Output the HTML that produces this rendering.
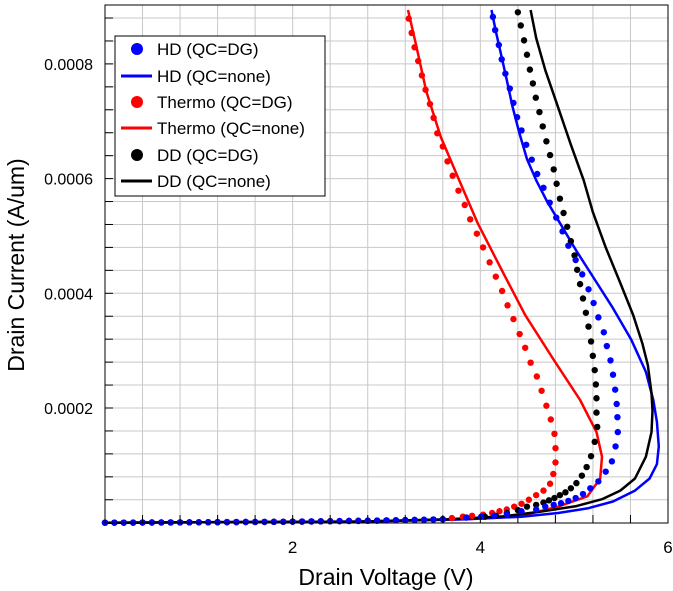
<!DOCTYPE html>
<html><head><meta charset="utf-8"><style>
body{margin:0;background:#fff;}
svg{display:block;font-family:"Liberation Sans",Arial,sans-serif;}
</style></head><body>
<svg id="chart" width="673" height="591" viewBox="0 0 673 591">
<g id="grid"></g>
<g id="series"></g>
<rect x="105" y="5" width="563" height="518" fill="none" stroke="#000" stroke-width="1"/>
<g id="axes"></g>
<text x="386" y="585" font-size="23" text-anchor="middle">Drain Voltage (V)</text>
<text transform="translate(24,265) rotate(-90)" font-size="23" text-anchor="middle">Drain Current (A/um)</text>
<g>
<rect x="115" y="36" width="210" height="160" fill="#fff" stroke="#000" stroke-width="1"/>
<circle cx="137" cy="49" r="6" fill="#0000ff"/>
<text x="157" y="55" font-size="17">HD (QC=DG)</text>
<line x1="121" y1="76" x2="152" y2="76" stroke="#0000ff" stroke-width="3"/>
<text x="157" y="82" font-size="17">HD (QC=none)</text>
<circle cx="137" cy="102" r="6" fill="#ff0000"/>
<text x="157" y="108" font-size="17">Thermo (QC=DG)</text>
<line x1="121" y1="128" x2="152" y2="128" stroke="#ff0000" stroke-width="3"/>
<text x="157" y="134" font-size="17">Thermo (QC=none)</text>
<circle cx="137" cy="155" r="6" fill="#000"/>
<text x="157" y="161" font-size="17">DD (QC=DG)</text>
<line x1="121" y1="181" x2="152" y2="181" stroke="#000" stroke-width="3"/>
<text x="157" y="187" font-size="17">DD (QC=none)</text>
</g>
</svg>
<script>
const xTicks=[2,4,6];
const yTicks=[0.0002,0.0004,0.0006,0.0008];
const yTickLabels=["0.0002","0.0004","0.0006","0.0008"];
const tail=[3.6,3.5,3.4,3.3,3.2,3.1,3.0,2.9,2.8,2.7,2.6,2.5,2.4,2.3,2.2,2.1,2.0,1.9,1.8,1.7,1.6,1.5,1.4,1.3,1.2,1.1,1.0,0.9,0.8,0.7,0.6,0.5,0.4,0.3,0.2,0.1,0.0];
const tailI=[6e-6,5.5e-6,5e-6,4.7e-6,4.5e-6,4.2e-6,4e-6,3.7e-6,3.4e-6,3.2e-6,3e-6,2.8e-6,2.6e-6,2.4e-6,2.2e-6,2e-6,1.8e-6,1.6e-6,1.5e-6,1.4e-6,1.3e-6,1.2e-6,1.1e-6,1e-6,0.9e-6,0.8e-6,0.7e-6,0.6e-6,0.5e-6,0.45e-6,0.4e-6,0.35e-6,0.3e-6,0.2e-6,0.1e-6,0.05e-6,0];

const thermoLineV=[3.229,3.307,3.424,3.580,3.775,3.970,4.243,4.478,4.790,5.063,5.238,5.297,5.277,5.141,4.829,4.439,3.853,2.683,0];
const thermoLineI=[8.94e-4,8.39e-4,7.52e-4,6.72e-4,5.97e-4,5.23e-4,4.36e-4,3.62e-4,2.82e-4,2.14e-4,1.58e-4,1.15e-4,7.7e-5,4.6e-5,2.8e-5,1.2e-5,6e-6,2e-6,0];
const hdLineV=[4.119,4.165,4.224,4.283,4.341,4.419,4.497,4.595,4.712,4.868,5.024,5.219,5.414,5.609,5.765,5.843,5.882,5.902,5.882,5.804,5.648,5.414,5.141,4.829,4.439,3.853,2.683,0];
const hdLineI=[8.94e-4,8.57e-4,8.14e-4,7.71e-4,7.27e-4,6.78e-4,6.34e-4,5.97e-4,5.60e-4,5.17e-4,4.74e-4,4.24e-4,3.74e-4,3.19e-4,2.63e-4,2.14e-4,1.76e-4,1.33e-4,1.02e-4,7.7e-5,5.6e-5,3.7e-5,2.5e-5,1.7e-5,1.05e-5,6e-6,2e-6,0];
const ddLineV=[4.536,4.595,4.692,4.809,4.965,5.102,5.199,5.336,5.492,5.629,5.726,5.785,5.824,5.835,5.824,5.765,5.648,5.492,5.297,5.024,4.634,4.243,3.658,2.683,0];
const ddLineI=[8.94e-4,8.45e-4,7.89e-4,7.34e-4,6.59e-4,5.97e-4,5.42e-4,4.80e-4,4.18e-4,3.62e-4,3.13e-4,2.75e-4,2.26e-4,1.95e-4,1.58e-4,1.15e-4,7.7e-5,5.6e-5,4.1e-5,2.9e-5,1.9e-5,1.1e-5,6e-6,2e-6,0];

const thermoDotV=[3.237,3.268,3.299,3.338,3.377,3.416,3.463,3.502,3.541,3.600,3.650,3.705,3.767,3.834,3.892,3.963,4.029,4.099,4.165,4.232,4.290,4.353,4.419,4.478,4.536,4.602,4.653,4.704,4.751,4.790,4.801,4.801,4.778,4.743,4.673,4.595,4.517,4.439,4.361,4.282,4.204,4.126,4.029,3.912,3.814,3.697];
const thermoDotI=[8.79e-4,8.54e-4,8.29e-4,8.05e-4,7.80e-4,7.55e-4,7.30e-4,7.06e-4,6.79e-4,6.56e-4,6.30e-4,6.05e-4,5.79e-4,5.54e-4,5.29e-4,5.04e-4,4.80e-4,4.54e-4,4.29e-4,4.04e-4,3.79e-4,3.55e-4,3.29e-4,3.05e-4,2.79e-4,2.55e-4,2.30e-4,2.04e-4,1.80e-4,1.55e-4,1.30e-4,1.05e-4,8.5e-5,6.8e-5,5.6e-5,4.8e-5,4.0e-5,3.3e-5,2.8e-5,2.3e-5,2.0e-5,1.7e-5,1.4e-5,1.2e-5,1.05e-5,8e-6];
const hdDotV=[4.134,4.158,4.197,4.228,4.267,4.314,4.353,4.392,4.439,4.489,4.548,4.606,4.673,4.739,4.809,4.876,4.938,5.016,5.086,5.153,5.207,5.258,5.316,5.348,5.387,5.414,5.437,5.453,5.461,5.465,5.441,5.402,5.336,5.258,5.172,5.094,5.016,4.938,4.860,4.782,4.692,4.595,4.439,4.283,4.146,4.009,3.850];
const hdDotI=[8.82e-4,8.59e-4,8.33e-4,8.08e-4,7.83e-4,7.57e-4,7.32e-4,7.07e-4,6.84e-4,6.59e-4,6.33e-4,6.08e-4,5.84e-4,5.58e-4,5.32e-4,5.08e-4,4.83e-4,4.58e-4,4.33e-4,4.07e-4,3.83e-4,3.58e-4,3.32e-4,3.08e-4,2.83e-4,2.58e-4,2.32e-4,2.07e-4,1.84e-4,1.58e-4,1.33e-4,1.07e-4,8.9e-5,7.2e-5,6.0e-5,5.0e-5,4.3e-5,3.8e-5,3.4e-5,3.1e-5,2.8e-5,2.3e-5,2.0e-5,1.5e-5,1.2e-5,1.05e-5,9e-6];
const ddDotV=[4.400,4.431,4.466,4.497,4.528,4.560,4.591,4.630,4.665,4.704,4.743,4.782,4.813,4.848,4.887,4.926,4.965,5.004,5.032,5.063,5.094,5.125,5.153,5.180,5.199,5.219,5.231,5.238,5.238,5.246,5.219,5.180,5.133,5.082,5.024,4.965,4.907,4.848,4.790,4.731,4.673,4.595,4.497,4.400,4.283,4.165,4.048,3.850];
const ddDotI=[8.90e-4,8.67e-4,8.41e-4,8.16e-4,7.90e-4,7.66e-4,7.41e-4,7.16e-4,6.91e-4,6.65e-4,6.41e-4,6.16e-4,5.91e-4,5.65e-4,5.40e-4,5.16e-4,4.91e-4,4.66e-4,4.41e-4,4.16e-4,3.91e-4,3.66e-4,3.42e-4,3.16e-4,2.91e-4,2.66e-4,2.41e-4,2.17e-4,1.92e-4,1.67e-4,1.41e-4,1.16e-4,9.7e-5,8.2e-5,6.9e-5,6.0e-5,5.3e-5,4.8e-5,4.3e-5,3.9e-5,3.5e-5,3.1e-5,2.8e-5,2.2e-5,1.7e-5,1.2e-5,1.05e-5,9e-6];

const NS="http://www.w3.org/2000/svg";
const X0=105,X1=668,Y0=522.7,YPX=573500;
function sx(v){return X0+(X1-X0)*v/6;}
function sy(i){return Y0-i*YPX;}
function mk(tag,attrs,parent){const e=document.createElementNS(NS,tag);for(const k in attrs)e.setAttribute(k,attrs[k]);parent.appendChild(e);return e;}
const grid=document.getElementById('grid'),axes=document.getElementById('axes'),ser=document.getElementById('series');
for(let k=1;k<15;k++){const v=k*0.4;const x=sx(v);
 const l=mk('line',{x1:x,x2:x,y1:5,y2:523,stroke:'#c8c8c8','stroke-width':1},grid);
 
 const t=mk('line',{x1:x,x2:x,y1:523,y2:515,stroke:'#000','stroke-width':1},axes);
 }
for(let k=1;k<23;k++){const y=sy(k*0.00004);if(y<5)continue;
 const l=mk('line',{x1:105,x2:668,y1:y,y2:y,stroke:'#c8c8c8','stroke-width':1},grid);
 
 const t=mk('line',{x1:105,x2:113,y1:y,y2:y,stroke:'#000','stroke-width':1},axes);
 }
xTicks.forEach(v=>{const t=mk('text',{x:sx(v),y:553,'font-size':17,'text-anchor':'middle'},axes);t.textContent=String(v);
 });
yTicks.forEach((v,i)=>{const t=mk('text',{x:93,y:sy(v)+6,'font-size':16,'text-anchor':'end'},axes);t.textContent=yTickLabels[i];
 });
function line(V,I,color,name){const d=V.map((v,i)=>(i?'L':'M')+sx(v).toFixed(1)+','+sy(I[i]).toFixed(1)).join('');
 const p=mk('path',{d:d,fill:'none',stroke:color,'stroke-width':2.5,'stroke-linejoin':'round'},ser);
 }
function dots(V,I,color,name){const g=mk('g',{fill:color},ser);
 
 const all=V.concat(tail),allI=I.concat(tailI);
 all.forEach((v,i)=>{const c=mk('circle',{cx:sx(v),cy:sy(allI[i]),r:3.2},g);
  });}
line(thermoLineV,thermoLineI,'#ff0000','thermo-none-line');
line(hdLineV,hdLineI,'#0000ff','hd-none-line');
line(ddLineV,ddLineI,'#000000','dd-none-line');
dots(thermoDotV,thermoDotI,'#ff0000','thermo-dg-dots');
dots(ddDotV,ddDotI,'#000000','dd-dg-dots');
dots(hdDotV,hdDotI,'#0000ff','hd-dg-dots');
</script>
</body></html>
